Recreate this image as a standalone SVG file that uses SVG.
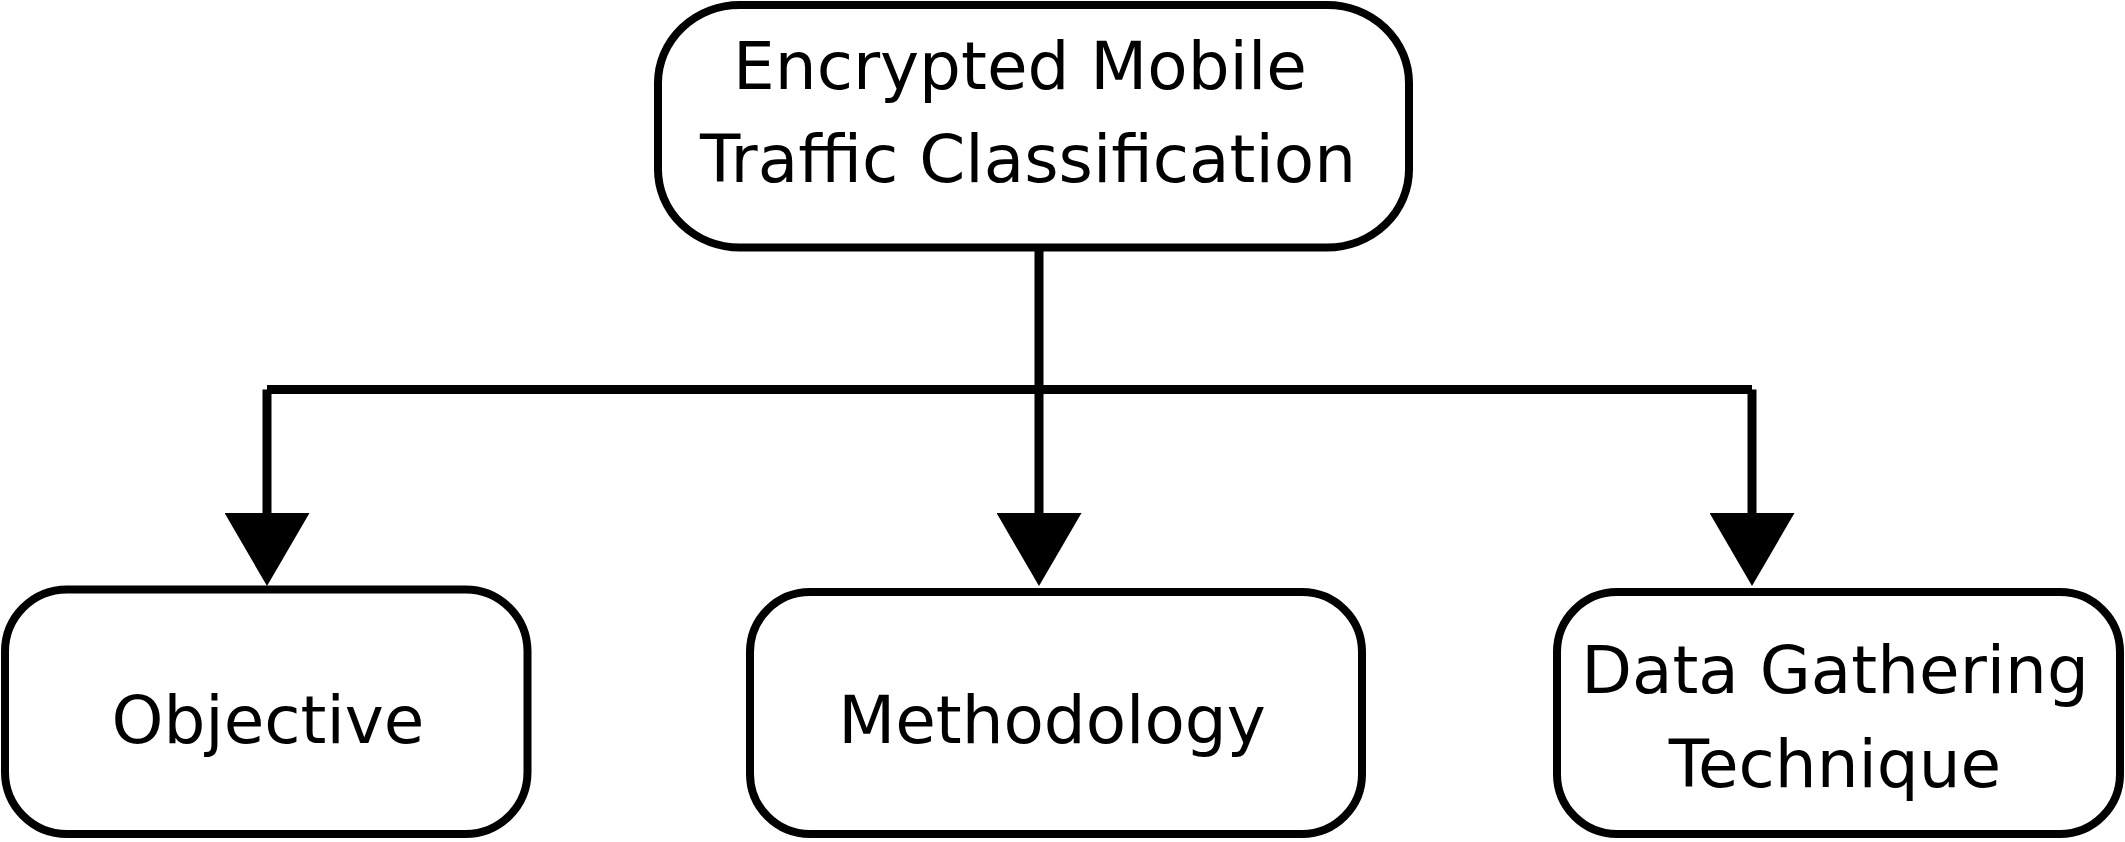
<svg xmlns="http://www.w3.org/2000/svg" width="2125" height="842" viewBox="0 0 2125 842">
<style>
.box{fill:#fff;stroke:#000;stroke-width:8}
.lbl{font-family:"DejaVu Sans",Verdana,sans-serif;font-size:66px;fill:#000;text-anchor:middle}
.con{stroke:#000;stroke-width:9;fill:none}
</style>
<defs>
<marker id="ah" viewBox="0 0 73 85" refX="0" refY="42.5" markerWidth="73" markerHeight="85" markerUnits="userSpaceOnUse" orient="auto">
<path d="M0,0 L73,42.5 L0,85 Z" fill="#000"/>
</marker>
</defs>
<rect width="2125" height="842" fill="#fff"/>
<g id="connectors">
<line class="con" x1="1039" y1="241" x2="1039" y2="513" marker-end="url(#ah)"/>
<line class="con" x1="267" y1="389.5" x2="1752" y2="389.5"/>
<line class="con" x1="267" y1="389.5" x2="267" y2="513" marker-end="url(#ah)"/>
<line class="con" x1="1752" y1="389.5" x2="1752" y2="513" marker-end="url(#ah)"/>
</g>
<g id="root">
<rect class="box" x="658" y="5" width="751" height="242.5" rx="82" ry="78"/>
<text class="lbl" x="1020" y="89">Encrypted Mobile</text>
<text class="lbl" x="1028" y="182">Traffic Classification</text>
</g>
<g id="objective">
<rect class="box" x="5" y="589.5" width="522.5" height="244.5" rx="62" ry="62"/>
<text class="lbl" x="268" y="743">Objective</text>
</g>
<g id="methodology">
<rect class="box" x="750" y="592" width="612" height="242" rx="60" ry="60"/>
<text class="lbl" x="1052" y="743">Methodology</text>
</g>
<g id="data-gathering">
<rect class="box" x="1557" y="592" width="563" height="242" rx="60" ry="60"/>
<text class="lbl" x="1835" y="693">Data Gathering</text>
<text class="lbl" x="1835" y="787">Technique</text>
</g>
</svg>
